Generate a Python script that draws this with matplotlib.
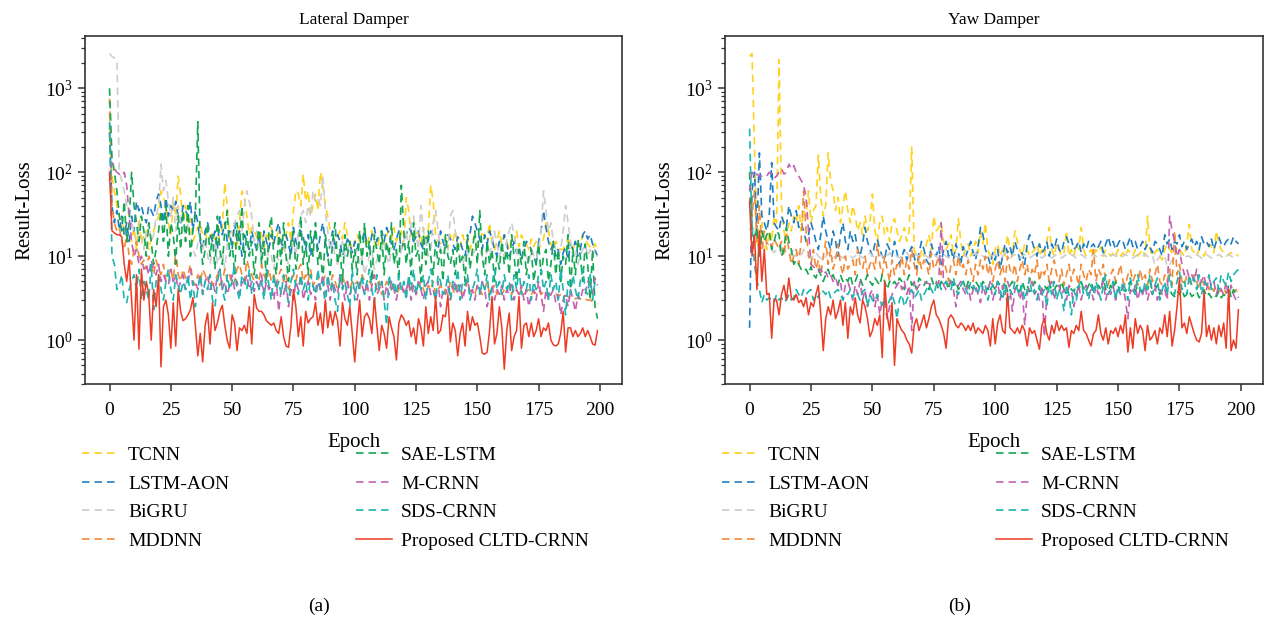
import matplotlib
matplotlib.use("Agg")
import matplotlib.pyplot as plt
import numpy as np

plt.rcParams["font.family"] = "serif"
plt.rcParams["font.serif"] = ["Liberation Serif", "DejaVu Serif"]
plt.rcParams["mathtext.fontset"] = "stix"

names = ["TCNN", "LSTM-AON", "BiGRU", "MDDNN", "SAE-LSTM", "M-CRNN", "SDS-CRNN", "Proposed CLTD-CRNN"]
colors = ["#FFD21F", "#1F7EC2", "#CDCDCD", "#F28A3A", "#13A653", "#C462B2", "#1CB5AF", "#EE3B24"]

# ---- Lateral Damper (a) ----
a_tcnn = [500, 90, 60, 40, 30, 25, 22, 20, 18, 15, 22, 12, 28, 14, 18, 20, 12, 16, 20, 25,
          30, 60, 50, 40, 25, 18, 45, 30, 90, 55, 25, 40, 20, 28, 15, 18, 22, 25, 18, 20,
          15, 17, 20, 16, 14, 18, 22, 75, 40, 16, 20, 14, 12, 25, 60, 50, 30, 18, 22, 20,
          17, 15, 20, 12, 18, 15, 22, 14, 16, 20, 13, 12, 18, 25, 15, 35, 60, 55, 40, 95,
          45, 60, 30, 40, 55, 35, 100, 70, 40, 30, 20, 18, 15, 17, 20, 16, 25, 18, 15, 12,
          14, 18, 15, 16, 20, 13, 18, 20, 15, 12, 16, 17, 14, 18, 20, 16, 22, 15, 18, 20,
          13, 50, 35, 17, 15, 20, 18, 14, 22, 16, 20, 70, 45, 18, 15, 14, 16, 17, 12, 18,
          15, 20, 14, 13, 18, 14, 16, 12, 15, 18, 13, 14, 20, 17, 16, 25, 14, 12, 15, 20,
          14, 18, 15, 12, 16, 14, 20, 13, 18, 15, 14, 12, 16, 13, 15, 12, 14, 16, 25, 20,
          14, 12, 15, 13, 12, 12, 14, 16, 13, 12, 15, 14, 13, 18, 16, 14, 13, 12, 14, 12]
a_lstm = [300, 40, 25, 35, 20, 30, 18, 25, 15, 30, 20, 45, 35, 40, 30, 25, 40, 35, 30, 45,
          55, 40, 25, 50, 30, 40, 35, 45, 30, 25, 40, 35, 30, 45, 20, 35, 25, 15, 12, 20,
          25, 18, 15, 20, 12, 30, 18, 25, 15, 20, 12, 25, 15, 20, 10, 18, 15, 12, 20, 15,
          12, 18, 10, 20, 15, 12, 18, 14, 20, 25, 15, 12, 18, 14, 10, 22, 15, 12, 20, 17,
          12, 18, 10, 15, 20, 12, 18, 25, 15, 10, 14, 20, 12, 18, 15, 10, 12, 16, 14, 11,
          15, 12, 18, 15, 20, 14, 12, 18, 22, 15, 18, 20, 15, 22, 18, 14, 12, 16, 20, 12,
          15, 18, 22, 20, 15, 17, 20, 14, 12, 18, 15, 20, 18, 14, 12, 20, 15, 12, 18, 16,
          14, 12, 17, 15, 12, 10, 16, 18, 30, 25, 20, 16, 12, 18, 14, 20, 16, 12, 10, 15,
          12, 18, 14, 10, 12, 15, 11, 13, 9, 12, 15, 14, 12, 10, 8, 15, 20, 35, 22, 15,
          12, 14, 10, 12, 8, 11, 13, 9, 14, 12, 15, 10, 12, 18, 20, 16, 18, 14, 12, 10]
a_bigru = [2600, 2400, 2300, 2200, 100, 80, 60, 40, 30, 25, 20, 15, 25, 18, 12, 20, 25, 15, 18, 30,
           40, 125, 60, 80, 45, 30, 50, 20, 40, 25, 30, 15, 25, 18, 12, 10, 14, 20, 12, 16,
           10, 8, 12, 15, 8, 10, 12, 7, 14, 18, 20, 25, 30, 35, 20, 40, 60, 45, 30, 15,
           20, 12, 10, 15, 8, 12, 10, 7, 10, 9, 12, 14, 10, 8, 12, 15, 10, 20, 30, 35,
           25, 40, 30, 60, 45, 50, 40, 90, 35, 20, 12, 15, 10, 8, 12, 15, 10, 12, 14, 8,
           10, 12, 8, 10, 6, 8, 10, 12, 7, 9, 10, 12, 15, 10, 8, 12, 14, 10, 8, 12,
           15, 20, 12, 25, 30, 18, 12, 40, 20, 15, 10, 12, 25, 35, 20, 12, 10, 14, 12, 30,
           35, 20, 12, 10, 8, 10, 12, 8, 10, 12, 15, 12, 10, 8, 12, 10, 15, 20, 14, 10,
           12, 10, 15, 20, 25, 18, 12, 8, 10, 12, 10, 8, 12, 10, 9, 12, 20, 60, 35, 20,
           25, 15, 12, 10, 12, 20, 40, 25, 15, 10, 12, 8, 10, 12, 14, 10, 12, 10, 12, 10]
a_mddnn = [750, 40, 25, 20, 22, 15, 12, 18, 10, 8, 12, 15, 10, 8, 9, 7, 10, 8, 6, 9,
           7, 6, 8, 5, 6, 7, 5, 12, 6, 5, 7, 5.5, 6, 8, 5, 4.5, 6, 5, 7, 6,
           5, 6, 4.5, 5, 6, 4.5, 5, 7, 5, 6, 4.5, 5, 7, 8, 6, 5, 9, 7, 6, 5,
           6, 5, 8, 6, 5, 7, 5, 6, 4.5, 6, 7, 5, 6, 4, 5, 6, 5, 7, 8, 5,
           6, 5, 7, 4.5, 5, 6, 4, 5, 6, 5, 4.5, 6, 5, 4, 5, 6, 4.5, 5, 4, 5,
           4.5, 5, 4, 6, 5, 4, 5, 4.5, 6, 4, 5, 3.5, 4, 5, 4.5, 4, 5, 3.5, 4, 4.5,
           4, 3.5, 5, 4, 4.5, 3.5, 4, 5, 4, 3.5, 4.5, 4, 5, 3.5, 4, 4.5, 3.8, 4, 3.5, 5,
           4, 3.5, 4.5, 4, 3.5, 4, 5, 3.8, 4, 3.5, 4.5, 4, 3.5, 4, 5, 3.5, 4, 4.5, 3.5, 4,
           3.5, 4, 3.8, 4.5, 3.5, 4, 3.8, 3.5, 4, 3.5, 3.8, 4, 3.5, 3.8, 3.6, 4, 3.5, 3.8, 3.4, 3.6,
           3.5, 3.4, 3.6, 3.3, 3.5, 3.2, 3.4, 3.3, 3.2, 3.3, 3.1, 3.2, 3.1, 3, 3.1, 3, 3, 2.9, 2.8, 2.7]
a_sae = [1000, 150, 100, 60, 30, 20, 45, 15, 25, 100, 40, 25, 15, 30, 20, 10, 25, 15, 8, 12,
         20, 35, 15, 40, 10, 25, 18, 8, 30, 12, 35, 15, 40, 10, 20, 30, 400, 15, 8, 12,
         25, 10, 18, 7, 30, 12, 8, 20, 35, 10, 15, 6, 25, 12, 40, 8, 20, 10, 15, 6,
         12, 25, 8, 15, 5, 20, 30, 10, 6, 18, 8, 25, 10, 5, 15, 20, 7, 12, 30, 8,
         15, 6, 20, 10, 25, 8, 12, 5, 18, 10, 6, 15, 25, 8, 12, 5, 18, 10, 15, 7,
         12, 6, 20, 8, 25, 10, 15, 5, 18, 12, 8, 20, 6, 15, 10, 25, 8, 12, 5, 70,
         20, 8, 15, 6, 25, 10, 12, 5, 18, 8, 20, 10, 6, 15, 8, 12, 5, 18, 10, 8,
         12, 6, 15, 8, 10, 5, 18, 7, 12, 20, 8, 35, 10, 6, 15, 8, 12, 5, 10, 7,
         15, 8, 12, 6, 18, 10, 5, 12, 8, 15, 6, 10, 12, 5, 8, 14, 6, 10, 12, 5,
         8, 15, 6, 12, 5, 10, 8, 18, 4, 12, 6, 16, 10, 5, 14, 8, 3, 12, 2.5, 1.8]
a_mcrnn = [80, 130, 110, 100, 95, 90, 100, 70, 30, 15, 10, 12, 8, 10, 7, 8, 6, 9, 7, 6,
           8, 5, 6, 5, 4.5, 7, 5, 6, 4, 5, 6, 4, 5, 7, 4.5, 5, 4, 6, 3.5, 5,
           6, 4, 5, 3.8, 6, 7, 4, 5, 3.5, 4.5, 6, 4, 5, 3.5, 5, 4.5, 6, 4, 5, 3.8,
           5, 4, 6, 3.5, 5, 4, 4.5, 3, 5, 2.2, 4, 3.5, 5, 2.5, 4, 3, 5, 4, 6, 3,
           4, 5, 3.5, 4.5, 3, 5, 4, 6, 3.5, 4.5, 3, 5, 4, 3.5, 6, 4.5, 3, 5, 3.5, 4.5,
           4, 3, 5, 4.5, 3.5, 5, 3, 4.5, 6, 3.5, 4, 5, 3, 4.5, 3.5, 5, 4, 3, 4.5, 5,
           3.5, 4, 5, 3, 4.5, 3.5, 5, 4, 3, 4.5, 5, 3.5, 4, 3, 5, 2.5, 4, 3.5, 4.5, 3,
           4, 5, 3.5, 4.5, 3, 4, 5.5, 3.5, 4, 3, 4.5, 3.5, 5, 4, 2.5, 3.5, 4.5, 3, 4, 3.5,
           4.5, 3, 4, 3.5, 5, 3, 4, 3.5, 4.5, 3, 4, 2.5, 3.5, 4, 3, 5, 3.5, 2.2, 4, 3,
           3.5, 4, 2.8, 3.5, 2, 3, 3.5, 2.5, 4, 3, 2.2, 3.5, 3, 4, 3.5, 5, 4.5, 3.5, 5.5, 4.5]
a_sds = [400, 10, 8, 4, 4.5, 6, 3, 2.8, 4, 5, 6, 4, 7, 3, 5, 4, 3, 8, 2.3, 5,
         6, 4, 3, 5, 7, 4, 3, 6, 4.5, 3.5, 5, 4, 6, 3, 5, 2.5, 4, 6, 3.5, 5,
         4, 6, 3, 2.5, 5, 7, 4, 3, 6, 4, 5, 8, 4, 3, 6, 5, 4, 7, 3.5, 5,
         6, 4, 5, 3, 7, 4.5, 3, 6, 4, 5, 3.5, 6, 4, 2.8, 5, 7, 4, 3.5, 6, 4,
         5, 3, 6, 4.5, 3.5, 7, 4, 5, 2.5, 6, 4, 5, 3, 2.2, 6, 4, 5, 3.5, 2.5, 7,
         3, 5, 4, 6, 3.5, 5, 7, 4, 2.8, 6, 4, 5, 3, 1.5, 6, 4, 5, 3.5, 6, 4,
         5, 3, 6, 4, 7, 3.5, 5, 4, 6, 3, 5, 7, 4, 3, 6, 5, 3.5, 4, 6, 3,
         5, 4, 7, 3, 5, 4.5, 6, 3, 4, 5, 7, 3.5, 5, 4, 6, 3, 4.5, 7, 4, 5,
         3.5, 6, 4, 5, 3, 6, 4, 7, 3.5, 5, 4, 6, 3, 5, 4, 6, 7, 4, 5, 3,
         6, 4, 5, 3, 7, 4, 2, 5, 3.5, 6, 4, 3, 5, 7, 4, 3.5, 6, 3, 5, 4.5]
a_prop = [100, 20, 19, 18, 18, 17, 8, 5, 9, 3, 1.0, 6, 0.78, 7, 3, 5, 3.5, 1.0, 4, 2.5,
          6, 0.48, 2.5, 3, 2, 0.8, 2.8, 0.85, 4, 2.2, 1.7, 1.8, 2, 2.3, 3.2, 1.5, 0.65, 1.2, 0.55, 1.5,
          2.1, 0.9, 2.8, 1.3, 1.6, 2.2, 2.6, 1.5, 1.0, 0.8, 2, 1.6, 0.75, 1.4, 1.3, 1.5, 1.2, 2.5, 0.9, 3.5,
          2.4, 2.2, 2.2, 2, 1.7, 1.6, 1.5, 1.6, 1.3, 1.2, 1.9, 1.1, 0.85, 0.82, 1.5, 4, 2.5, 1.1, 1.9, 0.85,
          2.2, 1.6, 1.8, 1.9, 2.8, 1.5, 2.1, 1.2, 3, 1.4, 2.2, 1.5, 2.2, 1.7, 0.85, 2.8, 1.8, 1.5, 2.5, 1.2,
          0.55, 1.4, 3, 1.1, 1.9, 2.1, 1.8, 1.2, 3.2, 1.5, 0.75, 1.5, 1.2, 0.8, 1.9, 1.4, 1.1, 0.58, 1.6, 2,
          1.8, 1.5, 1.7, 1.1, 1.4, 0.9, 1.8, 1.4, 0.85, 2.5, 1.2, 1.9, 1.3, 3.3, 1.2, 1.3, 2, 1.9, 3.4, 0.95,
          1.6, 1.3, 0.65, 1.2, 1.6, 0.85, 2.2, 1.3, 1.9, 1.5, 1.6, 1.1, 0.7, 0.68, 0.72, 1.3, 3.3, 0.9, 1.2, 2.5,
          1.4, 0.45, 1.3, 2.1, 0.75, 1.1, 1.3, 3.3, 0.8, 1.5, 1.6, 1.1, 1.6, 1.1, 1.3, 1.8, 1.1, 1.4, 1.3, 1.6,
          1.0, 0.88, 0.85, 0.9, 1.2, 2.2, 0.72, 1.4, 1.4, 1.1, 1.3, 1.1, 1.2, 1.4, 1.1, 1.3, 1.1, 0.9, 0.87, 1.3]

# ---- Yaw Damper (b) ----
b_tcnn = [2400, 2600, 200, 15, 12, 25, 15, 12, 20, 15, 30, 25, 2200, 40, 20, 15, 25, 20, 30, 25,
          40, 20, 35, 30, 60, 25, 35, 40, 160, 50, 30, 40, 170, 80, 60, 35, 50, 25, 40, 60,
          35, 25, 40, 30, 20, 25, 18, 30, 20, 25, 55, 20, 15, 25, 30, 18, 22, 15, 25, 28,
          20, 15, 18, 22, 15, 20, 200, 12, 10, 8, 12, 10, 14, 18, 12, 30, 20, 22, 25, 15,
          12, 14, 18, 10, 12, 28, 15, 10, 12, 14, 10, 12, 15, 11, 20, 14, 25, 12, 10, 8,
          12, 14, 10, 12, 10, 18, 12, 10, 20, 15, 12, 10, 14, 12, 10, 11, 12, 14, 10, 12,
          10, 15, 22, 12, 10, 14, 12, 10, 11, 20, 10, 12, 10, 14, 12, 22, 12, 10, 11, 12,
          10, 12, 11, 13, 10, 12, 11, 10, 11, 10, 12, 10, 11, 10, 12, 11, 10, 12, 10, 11,
          12, 10, 30, 12, 10, 11, 12, 10, 9, 12, 14, 12, 11, 10, 13, 12, 11, 10, 14, 24,
          12, 11, 10, 12, 11, 10, 12, 14, 13, 11, 20, 14, 12, 11, 10, 10.5, 11, 10.5, 10, 10.5]
b_lstm = [1.4, 60, 100, 20, 170, 30, 25, 20, 30, 130, 25, 22, 20, 30, 25, 22, 40, 30, 25, 35,
          22, 25, 20, 15, 18, 25, 20, 15, 12, 18, 30, 20, 15, 12, 20, 15, 10, 18, 25, 15,
          12, 20, 15, 18, 12, 10, 14, 22, 15, 12, 10, 14, 16, 12, 10, 9, 14, 12, 10, 15,
          11, 8, 10, 12, 9, 11, 13, 10, 7, 11, 15, 12, 9, 8, 14, 11, 10, 13, 8, 12,
          15, 10, 12, 9, 14, 11, 8, 13, 10, 12, 15, 11, 9, 13, 22, 18, 12, 10, 8, 11,
          9, 12, 7, 10, 14, 11, 13, 10, 15, 12, 9, 11, 8, 14, 18, 15, 12, 10, 14, 11,
          12, 15, 10, 14, 12, 16, 12, 11, 15, 17, 14, 16, 12, 13, 15, 11, 14, 12, 15, 13,
          14, 12, 13, 15, 11, 14, 17, 13, 15, 12, 14, 16, 15, 12, 14, 17, 13, 15, 12, 13,
          15, 12, 14, 13, 11, 15, 14, 12, 10, 18, 14, 16, 12, 15, 14, 18, 13, 15, 12, 14,
          16, 13, 15, 12, 17, 14, 15, 13, 16, 12, 15, 17, 14, 13, 15, 16, 14, 17, 15, 14]
b_bigru = [20, 25, 18, 22, 14, 18, 12, 15, 13, 12, 11, 12, 13, 10, 12, 11, 10, 11, 12, 10,
           11, 10, 12, 11, 10, 9.5, 10, 11, 10, 9.5, 9, 10, 11, 10, 9.5, 10, 11, 10, 9.5, 10,
           10.5, 10, 9.5, 10, 11, 10, 9.5, 10, 10.5, 11, 10, 9.5, 10, 10.5, 10, 9.5, 10, 11, 10, 10.5,
           10, 9.5, 10, 10.5, 11, 10, 9.5, 10, 10.5, 10, 11, 10.5, 10, 9.5, 10, 10.5, 10, 9.5, 10, 10.5,
           10, 9.5, 10, 10.5, 10, 9.5, 10, 11, 10, 9.5, 10, 10.5, 11, 10, 10.5, 10, 9.5, 10, 10.5, 10,
           10.5, 10, 9.5, 10, 11, 10, 9.5, 10, 10.5, 10, 9.5, 10, 10.5, 10, 9.5, 10, 10.5, 10, 10, 9.5,
           10, 10.5, 10, 9.5, 10, 10.5, 10, 9.5, 10, 10.5, 10, 10.5, 10, 9.5, 10, 10.5, 10, 9.5, 10, 10,
           10.5, 10, 9.5, 10, 10.5, 10, 9.5, 10, 10.5, 10, 10, 9.5, 10, 10.5, 10, 10, 9.5, 10, 10.5, 10,
           10, 10.5, 10, 9.5, 10, 8, 9, 10, 10.5, 10, 7.5, 8, 9, 10, 10.5, 11, 10, 9.5, 10, 10,
           9.5, 10, 10.5, 10, 9.5, 10, 10.5, 10, 9.5, 10, 10, 10.5, 10, 9.5, 10, 10.5, 10, 9.8, 10, 10]
b_mddnn = [50, 30, 60, 15, 40, 12, 20, 14, 15, 13, 16, 14, 12, 15, 10, 18, 12, 8, 10, 12,
           8, 15, 60, 20, 10, 8, 12, 7, 9, 6, 10, 15, 8, 12, 7, 9, 14, 8, 6, 10,
           7, 8, 9, 6, 12, 8, 7, 10, 6, 8, 9, 7, 14, 8, 6, 10, 7, 5, 9, 6,
           8, 7, 10, 6, 9, 7, 12, 8, 6, 10, 7, 9, 8, 6, 11, 7, 8, 10, 6, 9,
           7, 5, 8, 9, 6, 10, 7, 8, 6, 9, 7, 5, 8, 6, 9, 7, 10, 6, 8, 5,
           7, 9, 6, 8, 5, 10, 7, 6, 8, 5, 7, 9, 6, 8, 5, 7, 6, 9, 5, 7,
           6, 8, 5, 7, 9, 6, 5, 7, 4.5, 6, 8, 5, 7, 6, 4.5, 8, 6, 5, 7, 6,
           12, 5, 7, 6, 8, 5, 4.5, 6, 7, 5, 6, 8, 5, 4.5, 6, 7, 5, 6, 4.5, 7,
           5, 6, 4.5, 7, 5, 6, 8, 5, 4.5, 6, 5, 7, 4.5, 20, 6, 8, 5, 4.5, 6, 5,
           4.5, 6, 5, 4, 5.5, 4.5, 5, 4, 4.5, 3.8, 4.5, 4, 3.8, 4.2, 3.6, 4, 3.8, 3.7, 4, 3.6]
b_sae = [100, 20, 15, 22, 10, 20, 15, 18, 20, 12, 15, 20, 18, 10, 12, 22, 15, 12, 8, 9,
         8, 7, 6.5, 7, 6, 7.5, 6, 5.5, 7, 6, 5, 6, 7, 5.5, 6, 5, 4.5, 6, 5, 5.5,
         5, 6, 4.5, 5, 6, 5.5, 4.5, 5, 6, 5, 4.5, 5.5, 5, 4.5, 6, 5, 4, 5, 4.5, 5,
         4.5, 5.5, 5, 4, 5, 6, 4.5, 5, 4, 5.5, 5, 4.5, 5, 4, 5.5, 4.5, 5, 4, 5, 4.5,
         5, 4, 5.5, 4.5, 5, 4, 4.5, 5, 4, 5, 4.5, 4, 5, 4.5, 4, 5, 4.5, 4, 5, 4.5,
         4, 5, 4.5, 4, 5, 3.8, 4.5, 5, 4, 4.5, 3.8, 5, 4, 4.5, 3.8, 4, 5, 4.5, 4, 3.8,
         4.5, 4, 5, 3.8, 4, 4.5, 3.8, 5, 4, 3.5, 4.5, 4, 3.8, 4.5, 4, 5, 4, 3.8, 4.5, 5,
         4, 3.8, 4.5, 4, 5.5, 4, 3.8, 4.5, 4, 5, 3.8, 4.5, 4, 3.8, 4.5, 5, 4, 3.8, 4.5, 4,
         3.8, 4.5, 4, 5, 3.8, 4, 4.5, 3.5, 4, 4.5, 3.8, 4, 3.5, 3.3, 3.8, 3.5, 4, 3.3, 3.5, 3.8,
         3.3, 3.5, 3.8, 3.2, 3.5, 4, 3.3, 3.6, 3.2, 3.5, 3.3, 3.8, 3.2, 3.5, 3.3, 4.5, 3.2, 4, 3.5, 3.2]
b_mcrnn = [60, 100, 90, 95, 90, 90, 92, 90, 100, 95, 85, 90, 100, 110, 95, 100, 125, 110, 120, 100,
           90, 80, 70, 50, 20, 8, 7.5, 7, 6.5, 7, 6, 6.5, 5.5, 6, 5, 5.5, 4.5, 5, 3, 4.5,
           5, 4, 3, 4.5, 3.5, 5, 3, 4, 2.5, 3.5, 4, 2.5, 3.5, 2, 3, 2.8, 1.8, 2.5, 3.5, 4,
           4.5, 5, 4, 5, 3.5, 4.5, 1.3, 5, 4, 4.5, 4.8, 5, 4.8, 4.7, 4.6, 4.5, 4.8, 4.7, 25, 4.5,
           4, 4.5, 5, 4, 2.5, 4.5, 5, 4, 3.5, 4.5, 3, 4, 4.5, 3.5, 2.8, 4.5, 3.5, 4, 5, 3,
           4, 5, 3, 4.5, 3.5, 5, 4, 2.2, 4, 4.5, 3, 4, 1.5, 3.5, 4.5, 5, 3.5, 4, 3, 4.5,
           1.1, 3.5, 4.5, 5, 3, 4, 4.5, 3.5, 4, 3, 4.5, 4, 2.5, 3.5, 4.5, 3, 4, 4.5, 3.5, 4,
           3, 4.5, 3.5, 4, 5, 3, 4, 3.5, 4.5, 3, 4, 3.5, 4.5, 3, 1.8, 4, 3.5, 4.5, 3, 4,
           3.5, 4.5, 3, 4, 3.5, 4.5, 3, 4, 3.5, 4, 3, 30, 20, 15, 10, 12, 8, 6, 7, 5.5,
           6, 5, 7, 4.5, 5, 6, 4, 5.5, 4.5, 5, 3.5, 4.5, 4, 3.5, 5, 3, 4.5, 3.5, 3, 3.2]
b_sds = [330, 20, 8, 5, 4, 2.8, 3.5, 3, 3.2, 3, 2.8, 3.5, 3, 3.2, 2.8, 3, 3.5, 3, 3.2, 4,
         3.5, 3.2, 4, 3.5, 3.8, 4, 3, 3.5, 3.2, 4, 3.8, 3.5, 4, 3.2, 3.5, 3.8, 4, 3.5, 3, 3.6,
         3.5, 4, 3.2, 3.8, 3.5, 3, 3.8, 4, 2.5, 3.5, 3, 2.8, 3.5, 3, 2.6, 3.2, 2.5, 3, 3.5, 2.8,
         1.8, 3, 3.5, 2.5, 3, 3.5, 4, 3.2, 3.5, 4, 3, 3.5, 4, 4.5, 4, 3.5, 4.5, 5, 4, 4.5,
         5, 4.5, 4, 5.5, 4, 3.5, 4.5, 5, 4, 3.5, 5, 4.5, 4, 3.5, 5, 4, 4.5, 3, 4, 4.5,
         3.5, 5, 4, 3, 4.5, 2.5, 4, 3.5, 5, 4, 3.5, 4.5, 3, 4, 5.5, 3.5, 4, 3, 4.5, 3.5,
         4, 2.5, 4.5, 3.5, 5, 3, 4, 3.5, 2.2, 4.5, 3.5, 2, 4, 3, 4.5, 5, 3.5, 4, 3, 4.5,
         3.5, 5, 4, 3, 4.5, 6, 3.5, 4, 5, 3, 4.5, 3.5, 5, 4, 3, 5.5, 4, 3.5, 6, 4,
         3.5, 5, 4, 6, 3.5, 4.5, 5.5, 3, 4, 5, 3.5, 6, 4, 3.5, 5, 6.5, 4, 5, 3.5, 6,
         4.5, 5.5, 4, 6, 3.5, 5, 4.5, 6, 4, 5, 5.5, 4, 6, 5, 4.5, 6.5, 5, 6, 6.5, 7]
b_prop = [45, 10, 18, 4, 20, 5, 12, 3.5, 3.6, 1.05, 3.1, 3.0, 2.0, 3.5, 4.5, 3.0, 5.5, 3.2, 3.0, 3.5,
          2.8, 3.0, 2.5, 3.2, 2.0, 2.8, 2.5, 3.5, 4.5, 2.0, 0.75, 1.8, 2.5, 2.0, 3.0, 1.8, 2.2, 3.0, 1.5, 2.8,
          1.05, 2.5, 2.0, 3.2, 2.0, 1.6, 3.0, 2.5, 1.8, 1.1, 1.3, 1.8, 1.5, 2.0, 0.62, 5, 2.0, 1.3, 2.8, 0.5,
          1.8, 1.5, 1.3, 1.2, 1.0, 0.9, 0.7, 1.5, 1.8, 1.3, 1.6, 2.0, 1.4, 1.8, 2.5, 3.0, 2.0, 1.8, 1.5, 1.2,
          0.8, 1.8, 2.0, 1.8, 1.5, 1.4, 1.6, 1.5, 1.3, 1.5, 1.3, 1.6, 1.2, 1.4, 1.3, 1.2, 1.5, 1.3, 0.85, 1.8,
          0.9, 1.6, 2.0, 1.3, 1.2, 3.6, 1.4, 1.3, 1.2, 1.4, 1.2, 1.5, 1.3, 0.85, 1.4, 1.2, 1.3, 1.0, 0.78, 1.5,
          1.8, 1.2, 1.0, 1.5, 1.2, 1.7, 1.3, 1.5, 1.3, 1.4, 0.82, 1.3, 1.2, 1.5, 1.3, 2.2, 1.3, 1.2, 1.0, 0.85,
          1.2, 1.3, 2.0, 1.2, 1.0, 1.4, 0.9, 1.3, 1.2, 1.4, 1.1, 1.5, 1.2, 2.0, 0.72, 1.4, 0.8, 1.8, 1.2, 1.5,
          1.3, 0.75, 1.5, 1.0, 1.1, 1.3, 0.9, 1.4, 1.2, 2.0, 1.1, 2.2, 0.85, 1.3, 2.5, 5.5, 1.4, 1.6, 1.2, 1.9,
          1.5, 1.2, 1.0, 0.95, 1.2, 3.8, 1.1, 1.5, 1.0, 1.4, 0.9, 1.5, 1.1, 1.6, 0.8, 4.0, 0.75, 1.0, 0.8, 2.3]

panels = [
    ("Lateral Damper", "(a)", [a_tcnn, a_lstm, a_bigru, a_mddnn, a_sae, a_mcrnn, a_sds, a_prop]),
    ("Yaw Damper", "(b)", [b_tcnn, b_lstm, b_bigru, b_mddnn, b_sae, b_mcrnn, b_sds, b_prop]),
]

fig = plt.figure(figsize=(12.67, 6.25), dpi=100)
lefts = [85 / 1267, 725 / 1267]
widths = [537 / 1267, 538 / 1267]
letter_x = [319 / 1267, 960 / 1267]

for i, (title, letter, series) in enumerate(panels):
    ax = fig.add_axes([lefts[i], 241 / 625, widths[i], 348 / 625])
    for name, col, ys in zip(names, colors, series):
        ep = np.arange(len(ys))
        if name.startswith("Proposed"):
            ax.plot(ep, ys, color=col, lw=1.1, label=name, zorder=3)
        else:
            ax.plot(ep, ys, color=col, lw=1.2, dashes=(4.5, 3), label=name)
    ax.set_yscale("log")
    ax.set_ylim(0.3, 4200)
    ax.set_xlim(-10, 209)
    ax.set_xticks([0, 25, 50, 75, 100, 125, 150, 175, 200])
    ax.tick_params(labelsize=14, direction="out", length=5, width=1.1, color="#333")
    ax.tick_params(axis="x", pad=8)
    ax.tick_params(which="minor", length=3, width=0.9, color="#333")
    for s in ax.spines.values():
        s.set_color("#333")
        s.set_linewidth(1.2)
    ax.set_title(title, fontsize=12.5, pad=9)
    ax.set_xlabel("Epoch", fontsize=15, labelpad=10)
    ax.set_ylabel("Result-Loss", fontsize=15, labelpad=8)
    ax.legend(loc="upper left", bbox_to_anchor=(-0.005, -0.18), ncol=2, frameon=False,
              fontsize=14, handlelength=1.9, handletextpad=0.45, columnspacing=6.5,
              labelspacing=0.56, borderaxespad=0, borderpad=0)
    fig.text(letter_x[i], 1 - 606 / 625, letter, fontsize=14, ha="center", va="center")

fig.savefig("out.png", dpi=100, facecolor="white")
